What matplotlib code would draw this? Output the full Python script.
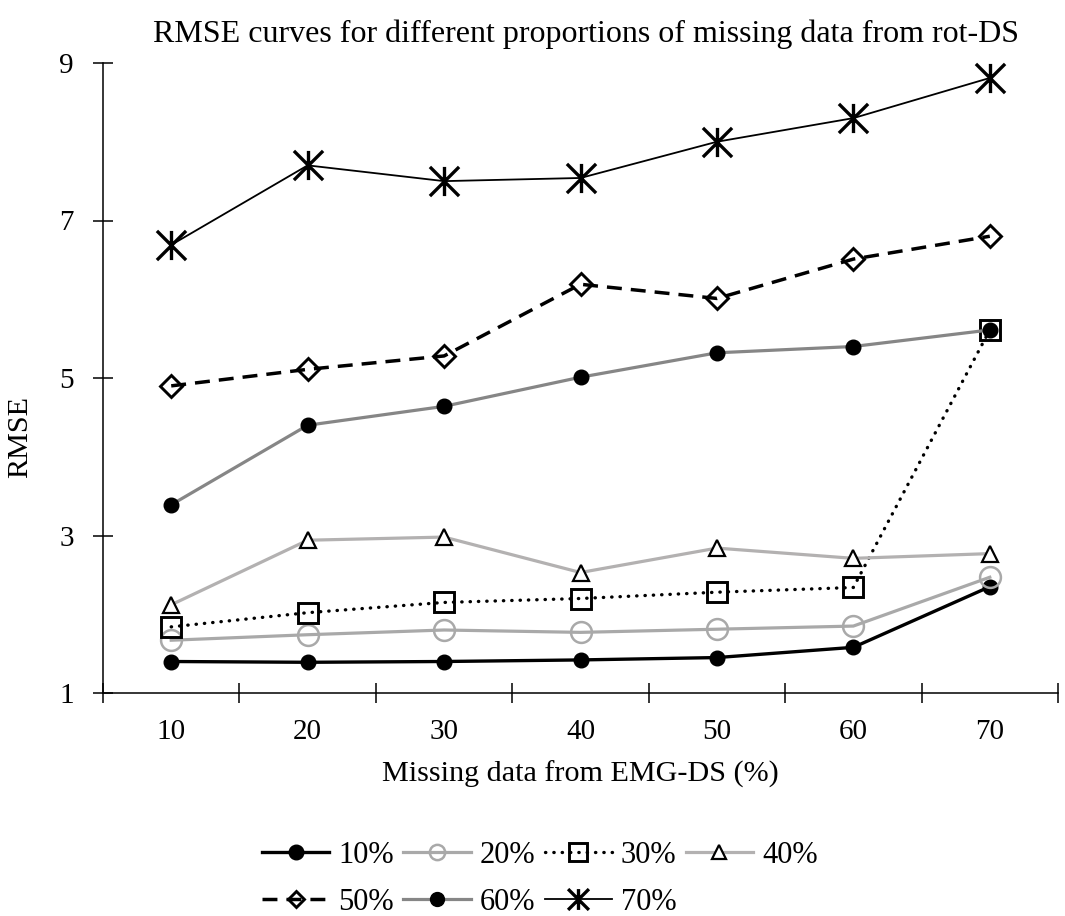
import matplotlib
matplotlib.use("Agg")
import matplotlib.pyplot as plt
from matplotlib.path import Path
from matplotlib.ticker import FixedLocator

plt.rcParams['font.family'] = ['Liberation Serif', 'DejaVu Serif']

categories = ["10", "20", "30", "40", "50", "60", "70"]
series_names = ["10%", "20%", "30%", "40%", "50%", "60%", "70%"]

rmse_10 = [1.40, 1.39, 1.40, 1.42, 1.45, 1.58, 2.35]
rmse_20 = [1.67, 1.74, 1.80, 1.77, 1.81, 1.85, 2.47]
rmse_30 = [1.84, 2.02, 2.15, 2.20, 2.28, 2.34, 5.61]
rmse_40 = [2.12, 2.94, 2.98, 2.53, 2.84, 2.71, 2.77]
rmse_50 = [4.90, 5.11, 5.28, 6.19, 6.01, 6.51, 6.80]
rmse_60 = [3.39, 4.40, 4.64, 5.01, 5.32, 5.40, 5.61]
rmse_70 = [6.69, 7.70, 7.50, 7.54, 8.00, 8.30, 8.81]

y_ticks = [1, 3, 5, 7, 9]

# six-armed star: vertical bar plus an X
star = Path([(0, -1), (0, 1), (-1, -1), (1, 1), (-1, 1), (1, -1)],
            [Path.MOVETO, Path.LINETO, Path.MOVETO, Path.LINETO, Path.MOVETO, Path.LINETO])

styles = [
    dict(color="black", lw=2.4, ls="-", marker="o", ms=10.5, mfc="black", mec="black", mew=1),
    dict(color="#a9a9a9", lw=2.3, ls="-", marker="o", ms=15, mfc="none", mec="#a9a9a9", mew=1.8),
    dict(color="black", lw=2.4, ls=(0, (0.1, 2.4)), marker="s", ms=15, mfc="none", mec="black",
         mew=2.1, dash_capstyle="round"),
    dict(color="#b3b1b1", lw=2.3, ls="-", marker="^", ms=11, mfc="white", mec="black", mew=1.6),
    dict(color="black", lw=2.5, ls=(0, (4.3, 2.6)), marker="D", ms=11.5, mfc="none", mec="black", mew=2.1),
    dict(color="#868686", lw=2.3, ls="-", marker="o", ms=10.5, mfc="black", mec="black", mew=1),
    dict(color="black", lw=1.3, ls="-", marker=star, ms=21, mfc="black", mec="black", mew=2.4),
]
legend_marker_sizes = [10.5, 11, 12.5, 10, 8.5, 10, 15]

data = [rmse_10, rmse_20, rmse_30, rmse_40, rmse_50, rmse_60, rmse_70]

fig = plt.figure(figsize=(10.65, 9.16), dpi=100)
ax = fig.add_axes([103 / 1065, 1 - 693 / 916, (1058 - 103) / 1065, (693 - 63) / 916])

x = list(range(1, len(categories) + 1))
handles = []
for name, vals, st in zip(series_names, data, styles):
    h, = ax.plot(x, vals, label=name, clip_on=False, **st)
    handles.append(h)

ax.set_xlim(0.5, len(categories) + 0.5)
ax.set_ylim(1, 9)
ax.set_yticks(y_ticks)
ax.set_xticks(x)
ax.set_xticklabels(categories)
ax.xaxis.set_minor_locator(FixedLocator([i + 0.5 for i in range(0, len(categories) + 1)]))

for s in ["top", "right"]:
    ax.spines[s].set_visible(False)
for s in ["left", "bottom"]:
    ax.spines[s].set_linewidth(1.1)

ax.tick_params(axis="x", which="major", length=0, pad=19, labelsize=21)
ax.tick_params(axis="x", which="minor", direction="inout", length=14, width=1.1)
ax.tick_params(axis="y", direction="inout", length=14, width=1.1, pad=14, labelsize=21)

ax.set_title("RMSE curves for different proportions of missing data from rot-DS",
             fontsize=23, pad=15, x=(586 - 103) / 955)
ax.set_xlabel("Missing data from EMG-DS (%)", fontsize=21.7, labelpad=11)
ax.set_ylabel("RMSE", fontsize=21.7)
ax.yaxis.set_label_coords((33 - 103) / 955, (693 - 437) / 630)

# reorder so the 4-column legend reads row by row
order = [0, 4, 1, 5, 2, 6, 3]
leg = fig.legend([handles[i] for i in order], [series_names[i] for i in order],
                 loc="center", bbox_to_anchor=(540 / 1065, 1 - 879 / 916), ncol=4,
                 frameon=False, fontsize=22, handlelength=2.2, handletextpad=0.3,
                 columnspacing=0.3, labelspacing=0.6, borderpad=0)
for lh, i in zip(leg.legend_handles, order):
    lh.set_markersize(legend_marker_sizes[i])

fig.savefig("out.png", dpi=100)
